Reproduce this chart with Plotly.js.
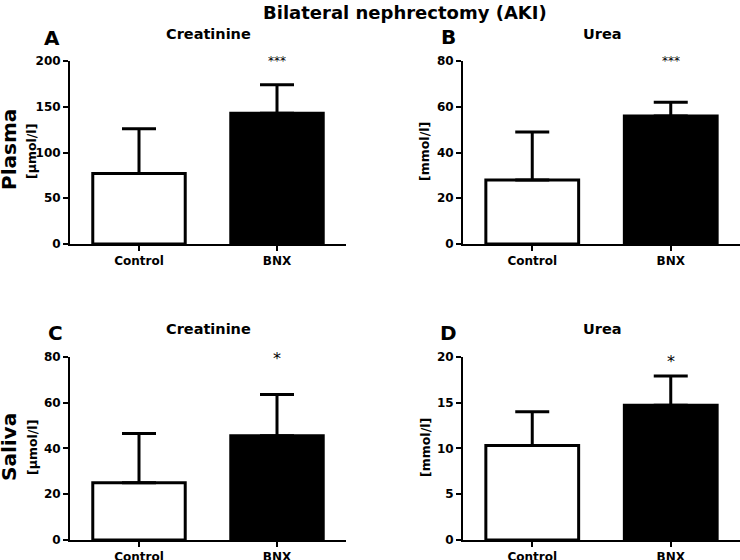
<!DOCTYPE html>
<html>
<head>
<meta charset="utf-8">
<script src="https://cdn.plot.ly/plotly-3.0.1.min.js"></script>
<style>html,body{margin:0;padding:0;background:#fff;}#chart{width:740px;height:560px;}</style>
</head>
<body>
<div id="chart"></div>
<script>
// ---- data ----
var groups = ["Control", "BNX"];
var plasmaCreatinineMean = [77, 143];
var plasmaCreatinineSD = [49, 31];
var plasmaUreaMean = [28, 56];
var plasmaUreaSD = [21, 6];
var salivaCreatinineMean = [25, 45.5];
var salivaCreatinineSD = [21.5, 18];
var salivaUreaMean = [10.3, 14.7];
var salivaUreaSD = [3.7, 3.2];
var significance = ["***", "***", "*", "*"];
var yRanges = [[0, 200], [0, 80], [0, 80], [0, 20]];
var yDtick = [50, 20, 20, 5];
var panelTitles = ["Creatinine", "Urea", "Creatinine", "Urea"];
var panelLetters = ["A", "B", "C", "D"];
var units = ["[µmol/l]", "[mmol/l]", "[µmol/l]", "[mmol/l]"];
var rowLabels = ["Plasma", "Saliva"];

var means = [plasmaCreatinineMean, plasmaUreaMean, salivaCreatinineMean, salivaUreaMean];
var sds = [plasmaCreatinineSD, plasmaUreaSD, salivaCreatinineSD, salivaUreaSD];

var W = 740, H = 560;
function px(x){return x/W;}
function py(y){return 1 - y/H;}

var xDomains = [[px(70), px(346)], [px(463), 1.0], [px(70), px(346)], [px(463), 1.0]];
var yDomains = [[py(244), py(61)], [py(244), py(61)], [py(540), py(356.7)], [py(540), py(356.7)]];

var FONT = "DejaVu Sans, Verdana, sans-serif";
var traces = [];
var layout = {
  width: W, height: H,
  margin: {l: 0, r: 0, t: 0, b: 0},
  paper_bgcolor: "#fff", plot_bgcolor: "#fff",
  showlegend: false,
  font: {family: FONT, color: "#000"},
  annotations: []
};

for (var i = 0; i < 4; i++) {
  var ax = i === 0 ? "" : String(i + 1);
  traces.push({
    type: "bar",
    x: groups,
    y: means[i],
    xaxis: "x" + ax,
    yaxis: "y" + ax,
    width: 0.67,
    marker: {color: ["#ffffff", "#000000"], line: {color: "#000", width: 3}},
    error_y: {type: "data", symmetric: false, array: sds[i], arrayminus: [0, 0],
              color: "#000", thickness: 3, width: 17},
    hoverinfo: "skip"
  });
  layout["xaxis" + ax] = {
    domain: xDomains[i], anchor: "y" + ax,
    type: "category", range: [-0.5, 1.5],
    showline: true, linecolor: "#000", linewidth: 2,
    ticks: "outside", ticklen: 5, tickwidth: 2, tickcolor: "#000",
    showgrid: false, zeroline: false, fixedrange: true,
    tickfont: {family: FONT, size: 12, color: "#000", weight: "bold"}
  };
  layout["yaxis" + ax] = {
    domain: yDomains[i], anchor: "x" + ax,
    range: yRanges[i], dtick: yDtick[i], tick0: 0,
    showline: true, linecolor: "#000", linewidth: 2,
    ticks: "outside", ticklen: 5, tickwidth: 2, tickcolor: "#000",
    showgrid: false, zeroline: false, fixedrange: true,
    tickfont: {family: FONT, size: 12, color: "#000", weight: "bold"}
  };
}

var titleX = [208, 602, 208, 602];
var titleY = [34, 34, 329, 329];
var letterX = [52, 448, 55, 448];
var letterY = [38, 37, 333, 333];
var unitX = [32, 425, 32, 425];
var unitY = [152, 152, 448, 448];
var starX = [277, 671, 277, 671];
var starY = [61, 61, 358, 361];
var starSize = [12, 12, 16, 16];

for (var j = 0; j < 4; j++) {
  layout.annotations.push({xref: "paper", yref: "paper", x: px(titleX[j]), y: py(titleY[j]),
    text: panelTitles[j], showarrow: false, xanchor: "center", yanchor: "middle",
    font: {family: FONT, size: 14.5, color: "#000", weight: "bold"}});
  layout.annotations.push({xref: "paper", yref: "paper", x: px(letterX[j]), y: py(letterY[j]),
    text: panelLetters[j], showarrow: false, xanchor: "center", yanchor: "middle",
    font: {family: FONT, size: 20, color: "#000", weight: "bold"}});
  layout.annotations.push({xref: "paper", yref: "paper", x: px(unitX[j]), y: py(unitY[j]),
    text: units[j], showarrow: false, textangle: -90, xanchor: "center", yanchor: "middle",
    font: {family: FONT, size: 12.5, color: "#000", weight: "bold"}});
  layout.annotations.push({xref: "paper", yref: "paper", x: px(starX[j]), y: py(starY[j]),
    text: significance[j], showarrow: false, xanchor: "center", yanchor: "middle",
    font: {family: FONT, size: starSize[j], color: "#000"}});
}

layout.annotations.push({xref: "paper", yref: "paper", x: px(9), y: py(150),
  text: rowLabels[0], showarrow: false, textangle: -90, xanchor: "center", yanchor: "middle",
  font: {family: FONT, size: 20, color: "#000", weight: "bold"}});
layout.annotations.push({xref: "paper", yref: "paper", x: px(9), y: py(447),
  text: rowLabels[1], showarrow: false, textangle: -90, xanchor: "center", yanchor: "middle",
  font: {family: FONT, size: 20, color: "#000", weight: "bold"}});

layout.annotations.push({xref: "paper", yref: "paper", x: px(405), y: py(12),
  text: "Bilateral nephrectomy (AKI)", showarrow: false, xanchor: "center", yanchor: "middle",
  font: {family: FONT, size: 18, color: "#000", weight: "bold"}});

Plotly.newPlot("chart", traces, layout, {displayModeBar: false, staticPlot: true});
</script>
</body>
</html>
